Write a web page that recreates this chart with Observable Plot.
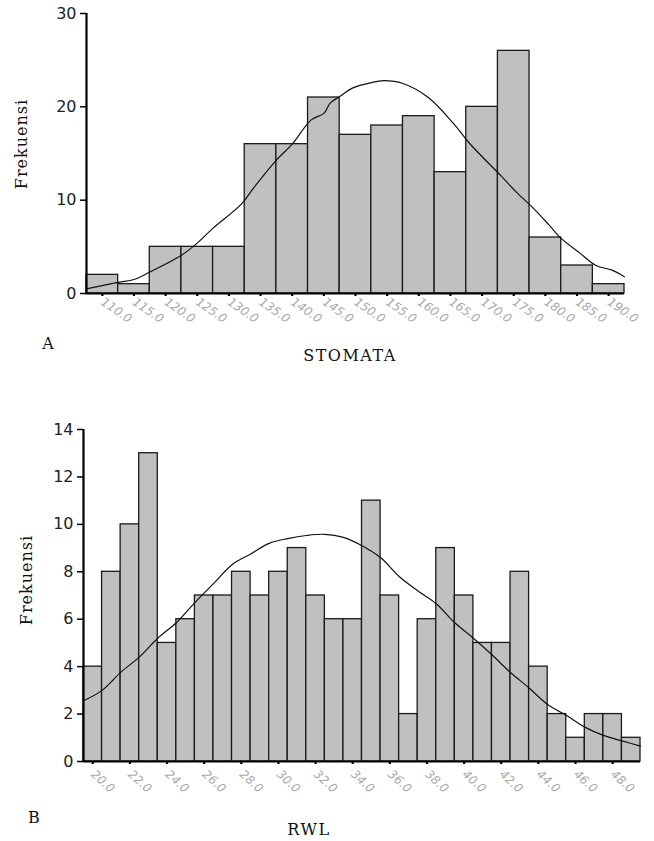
<!DOCTYPE html>
<html>
<head>
<meta charset="utf-8">
<script src="https://cdn.jsdelivr.net/npm/d3@7"></script>
<script src="https://cdn.jsdelivr.net/npm/@observablehq/plot@0.6"></script>
<style>
  html, body { margin: 0; padding: 0; background: #fff; }
  #wrap { position: relative; width: 654px; height: 841px; overflow: hidden; }
  .chart { position: absolute; left: 0; }
  .lbl { position: absolute; font-family: "DejaVu Serif", serif; color: #111; white-space: nowrap; }
</style>
</head>
<body>
<div id="wrap">
  <div id="top" class="chart" style="top:0"></div>
  <div id="bot" class="chart" style="top:380px"></div>
  <div class="lbl" style="left:21px;top:144px;font-size:16px;letter-spacing:1px;transform:translate(-50%,-50%) rotate(-90deg);">Frekuensi</div>
  <div class="lbl" style="left:48px;top:343px;font-size:16px;transform:translate(-50%,-50%);">A</div>
  <div class="lbl" style="left:350px;top:355px;font-size:16px;letter-spacing:1.5px;transform:translate(-50%,-50%);">STOMATA</div>
  <div class="lbl" style="left:26px;top:580px;font-size:16px;letter-spacing:1px;transform:translate(-50%,-50%) rotate(-90deg);">Frekuensi</div>
  <div class="lbl" style="left:34px;top:817px;font-size:16px;transform:translate(-50%,-50%);">B</div>
  <div class="lbl" style="left:309px;top:829px;font-size:16px;letter-spacing:1.5px;transform:translate(-50%,-50%);">RWL</div>
</div>
<script>
// ---------- Chart A: STOMATA ----------
const stomataLabels = ["110.0","115.0","120.0","125.0","130.0","135.0","140.0","145.0","150.0","155.0","160.0","165.0","170.0","175.0","180.0","185.0","190.0"];
const stomataFreq = [2,1,5,5,5,16,16,21,17,18,19,13,20,26,6,3,1];
const stomataYTicks = [0,10,20,30];
const stomataCurveX = [107.5,112.5,115,117.5,122.5,125,127.5,132,134,137.5,140,143,145,146,147.5,149.5,152.5,154.5,157.5,161.5,165.5,168,173,175.5,178,180.5,182.5,185.5,188,190.5,192.5];
const stomataCurveY = [0.5,1.2,1.5,2.3,4.1,5.4,7.0,9.6,11.4,14.3,16.0,18.6,19.3,20.4,21.1,22.0,22.6,22.8,22.5,21.0,18.2,16.1,12.6,10.8,9.2,7.4,5.9,4.3,3.0,2.5,1.8];

// ---------- Chart B: RWL ----------
const rwlBins = [20,21,22,23,24,25,26,27,28,29,30,31,32,33,34,35,36,37,38,39,40,41,42,43,44,45,46,47,48,49];
const rwlFreq = [4,8,10,13,5,6,7,7,8,7,8,9,7,6,6,11,7,2,6,9,7,5,5,8,4,2,1,2,2,1];
const rwlLabels = ["20.0","22.0","24.0","26.0","28.0","30.0","32.0","34.0","36.0","38.0","40.0","42.0","44.0","46.0","48.0"];
const rwlYTicks = [0,2,4,6,8,10,12,14];
const rwlCurveX = [19.5,20.5,21.5,22.5,23.5,24.5,25.5,26.5,27.5,28.5,29.5,30.5,31.5,32.5,33.5,34.5,35.5,36.5,37.5,38.5,39.5,40.5,41.5,42.5,43.5,44.5,45.5,46.5,47.5,48.5,49.5];
const rwlCurveY = [2.56,3.0,3.76,4.4,5.2,5.85,6.7,7.5,8.3,8.75,9.2,9.4,9.53,9.58,9.45,9.1,8.6,7.8,7.2,6.65,5.85,5.2,4.5,3.75,3.1,2.4,1.95,1.45,1.1,0.87,0.65];

function histChart({centers, freq, binWidth, curveX, curveY, xTicks, xTickLabels, yTicks, yMax,
                    height, mt, mb, ml, mr, rotate, ySize, xPad}) {
  const bars = centers.map((c, i) => ({x1: c - binWidth/2, x2: c + binWidth/2, f: freq[i]}));
  const curve = curveX.map((x, i) => ({x, y: curveY[i]}));
  const x0 = centers[0] - binWidth/2, x1 = centers[centers.length-1] + binWidth/2;
  return Plot.plot({
    width: 654, height,
    marginTop: mt, marginBottom: mb, marginLeft: ml, marginRight: mr,
    style: {fontFamily: "DejaVu Sans, sans-serif", background: "transparent", overflow: "visible"},
    x: {domain: [x0, x1]},
    y: {domain: [0, yMax]},
    marks: [
      Plot.rectY(bars, {x1: "x1", x2: "x2", y: "f", fill: "#c0c0c0", stroke: "#1a1a1a", strokeWidth: 1.3, inset: 0}),
      Plot.line(curve, {x: "x", y: "y", curve: "catmull-rom", stroke: "#111", strokeWidth: 1.2}),
      Plot.ruleY([0], {stroke: "#000", strokeWidth: 2.2}),
      Plot.ruleX([x0], {stroke: "#000", strokeWidth: 2.2}),
      Plot.axisY({ticks: yTicks, tickSize: ySize, tickPadding: 4, label: null, fill: "#222", stroke: "#000", strokeWidth: 1.5, fontSize: 16}),
      Plot.axisX({ticks: xTicks, tickFormat: (d, i) => xTickLabels[i], tickSize: 3, tickPadding: xPad, tickRotate: rotate,
                  label: null, fill: "#a8a8a8", stroke: "#000", strokeWidth: 2.2, fontSize: 12, fontStyle: "italic"})
    ]
  });
}

document.getElementById("top").append(histChart({
  centers: stomataLabels.map(Number), freq: stomataFreq, binWidth: 5,
  curveX: stomataCurveX, curveY: stomataCurveY,
  xTicks: stomataLabels.map(Number), xTickLabels: stomataLabels,
  yTicks: stomataYTicks, yMax: 30,
  height: 380, mt: 13, mb: 87, ml: 86, mr: 30, rotate: 35, ySize: 6, xPad: 4
}));

document.getElementById("bot").append(histChart({
  centers: rwlBins, freq: rwlFreq, binWidth: 1,
  curveX: rwlCurveX, curveY: rwlCurveY,
  xTicks: rwlLabels.map(Number), xTickLabels: rwlLabels,
  yTicks: rwlYTicks, yMax: 14,
  height: 461, mt: 49, mb: 80, ml: 83, mr: 14, rotate: 42, ySize: 6, xPad: 8
}));
</script>
</body>
</html>
